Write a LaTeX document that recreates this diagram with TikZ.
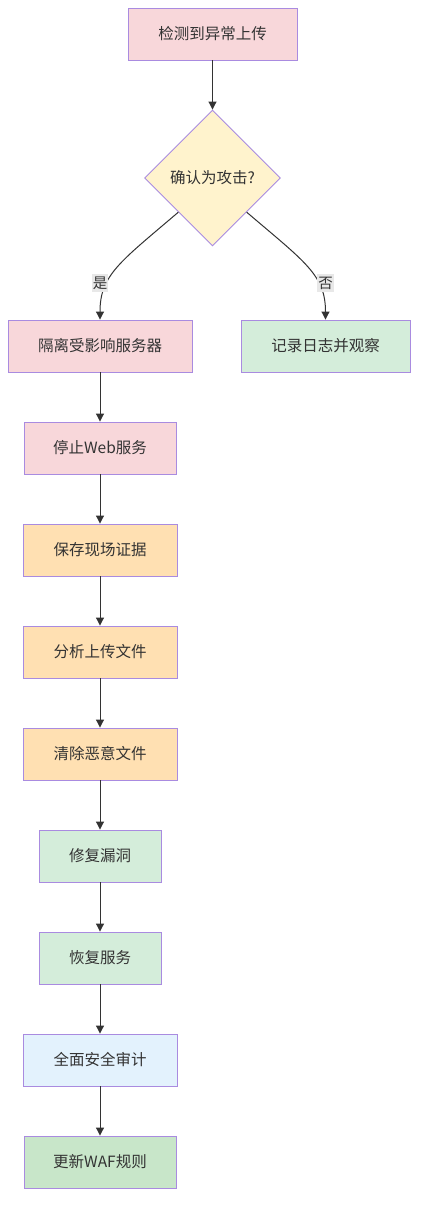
\documentclass[tikz,border=0pt]{standalone}
\usepackage{fontspec}
\setmainfont{Noto Sans CJK SC}
\usetikzlibrary{shapes.geometric,arrows.meta}
\definecolor{bordc}{HTML}{A98BE0}
\definecolor{txt}{HTML}{333333}
\definecolor{pinkf}{HTML}{F8D7DA}
\definecolor{yelf}{HTML}{FFF3CD}
\definecolor{grnf}{HTML}{D4EDDA}
\definecolor{orgf}{HTML}{FFE0B2}
\definecolor{bluef}{HTML}{E3F2FD}
\definecolor{grn2f}{HTML}{C8E6C9}
\definecolor{lblf}{HTML}{E8E8E8}
\begin{document}
\begin{tikzpicture}[x=1pt,y=-1pt,
  every node/.style={text=txt,font=\fontsize{15.5}{18}\selectfont},
  box/.style={draw=bordc,line width=0.9pt,rectangle,minimum height=52pt,inner sep=0pt,anchor=center},
  dia/.style={draw=bordc,line width=0.9pt,diamond,minimum width=136pt,minimum height=136pt,inner sep=0pt},
  arr/.style={draw=txt,line width=1pt,-{Triangle[length=8pt,width=8pt]}},
  lbl/.style={fill=lblf,inner xsep=1pt,inner ysep=3pt,font=\fontsize{14.5}{16}\selectfont}]
\useasboundingbox (0,0) rectangle (426,1220);
\node[box,fill=pinkf,minimum width=169pt] (n1) at (212.5,34) {检测到异常上传};
\node[dia,fill=yelf] (d) at (212.5,178) {确认为攻击?};
\node[box,fill=pinkf,minimum width=184pt] (a1) at (100,346) {隔离受影响服务器};
\node[box,fill=grnf,minimum width=169pt] (b1) at (325.5,346) {记录日志并观察};
\node[box,fill=pinkf,minimum width=152pt] (a2) at (100,448) {停止Web服务};
\node[box,fill=orgf,minimum width=154pt] (a3) at (100,550) {保存现场证据};
\node[box,fill=orgf,minimum width=154pt] (a4) at (100,652) {分析上传文件};
\node[box,fill=orgf,minimum width=154pt] (a5) at (100,754) {清除恶意文件};
\node[box,fill=grnf,minimum width=122pt] (a6) at (100,856) {修复漏洞};
\node[box,fill=grnf,minimum width=122pt] (a7) at (100,958) {恢复服务};
\node[box,fill=bluef,minimum width=154pt] (a8) at (100,1060) {全面安全审计};
\node[box,fill=grn2f,minimum width=152pt] (a9) at (100,1162) {更新WAF规则};
\draw[arr] (n1) -- (d);
\draw[arr] (d.south west) .. controls (120,262) and (100,275) .. (a1.north);
\draw[arr] (d.south east) .. controls (305,262) and (325.5,275) .. (b1.north);
\node[lbl] (ly) at (100,283) {是};
\node[lbl] (ln) at (325.5,283) {否};
\draw[arr] (a1) -- (a2);
\draw[arr] (a2) -- (a3);
\draw[arr] (a3) -- (a4);
\draw[arr] (a4) -- (a5);
\draw[arr] (a5) -- (a6);
\draw[arr] (a6) -- (a7);
\draw[arr] (a7) -- (a8);
\draw[arr] (a8) -- (a9);
\end{tikzpicture}
\end{document}
